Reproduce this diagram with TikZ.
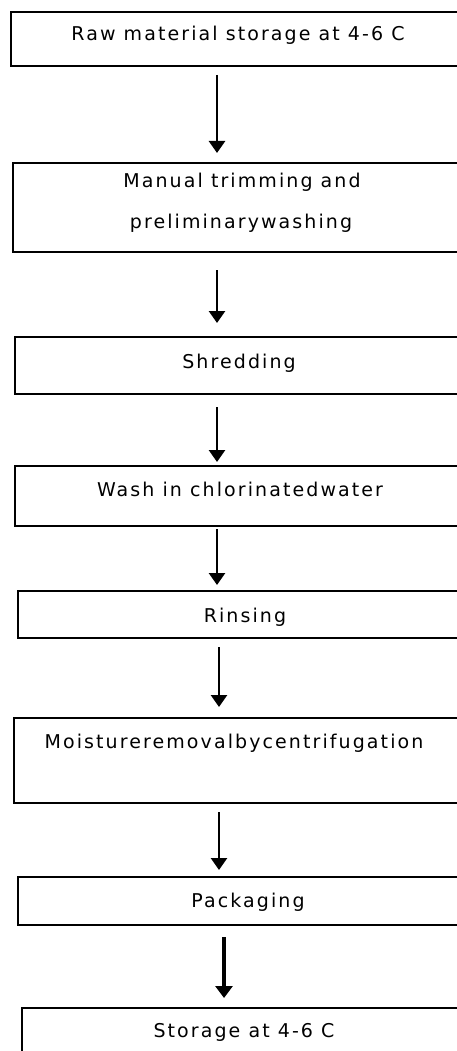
\documentclass[tikz,border=0pt]{standalone}
\usepackage{fontspec}
\newfontfamily\stepfont{DejaVu Sans}[LetterSpace=11]
\usetikzlibrary{arrows.meta}
\tikzset{
  box/.style={draw, line width=2pt, minimum width=470pt, inner sep=0pt,
    outer sep=0pt, anchor=north west},
  steptext/.style={font=\stepfont\fontsize{19}{22}\selectfont, inner sep=0pt,
    anchor=base},
  flow/.style={line width=2.6pt, -{Triangle[width=16pt,length=12pt]}},
  flowbold/.style={line width=4pt, -{Triangle[width=17pt,length=12pt]}}
}
\begin{document}
\begin{tikzpicture}[x=1pt,y=-1pt]
  \useasboundingbox (0,0) rectangle (457,1051);
  \clip (0,0) rectangle (457,1051);
  \fill[white] (0,0) rectangle (457,1051);

  % process steps (boxes run past the right edge)
  \node[box, minimum height=54pt] (b1) at (11,12) {};
  \node[box, minimum height=89pt] (b2) at (13,163) {};
  \node[box, minimum height=57pt] (b3) at (15,337) {};
  \node[box, minimum height=60pt] (b4) at (15,466) {};
  \node[box, minimum height=47pt] (b5) at (18,591) {};
  \node[box, minimum height=85pt] (b6) at (14,718) {};
  \node[box, minimum height=48pt] (b7) at (18,877) {};
  \node[box, minimum height=60pt] (b8) at (22,1008) {};

  % step labels
  \node[steptext] (t1)  at (238,41)   {Raw material storage at 4-6 C};
  \node[steptext] (t2a) at (242,187)  {Manual trimming and};
  \node[steptext] (t2b) at (241,228)  {preliminarywashing};
  \node[steptext] (t3)  at (239,368)  {Shredding};
  \node[steptext] (t4)  at (240,496)  {Wash in chlorinatedwater};
  \node[steptext] (t5)  at (245,622)  {Rinsing};
  \node[steptext] (t6)  at (234,748)  {Moistureremovalbycentrifugation};
  \node[steptext] (t7)  at (248,907)  {Packaging};
  \node[steptext] (t8)  at (244,1037) {Storage at 4-6 C};

  % arrow columns
  \coordinate (ax)  at (217,0);
  \coordinate (axb) at (219,0);
  \coordinate (axc) at (224,0);

  % connectors
  \draw[flow, shorten <=9pt,  shorten >=10pt] (b1.south -| ax)  -- (b2.north -| ax);
  \draw[flow, shorten <=18pt, shorten >=14pt] (b2.south -| ax)  -- (b3.north -| ax);
  \draw[flow, shorten <=13pt, shorten >=4pt]  (b3.south -| ax)  -- (b4.north -| ax);
  \draw[flow, shorten <=3pt,  shorten >=6pt]  (b4.south -| ax)  -- (b5.north -| ax);
  \draw[flow, shorten <=9pt,  shorten >=11pt] (b5.south -| axb) -- (b6.north -| axb);
  \draw[flow, shorten <=9pt,  shorten >=7pt]  (b6.south -| axb) -- (b7.north -| axb);
  \draw[flowbold, shorten <=12pt, shorten >=10pt] (b7.south -| axc) -- (b8.north -| axc);
\end{tikzpicture}
\end{document}
